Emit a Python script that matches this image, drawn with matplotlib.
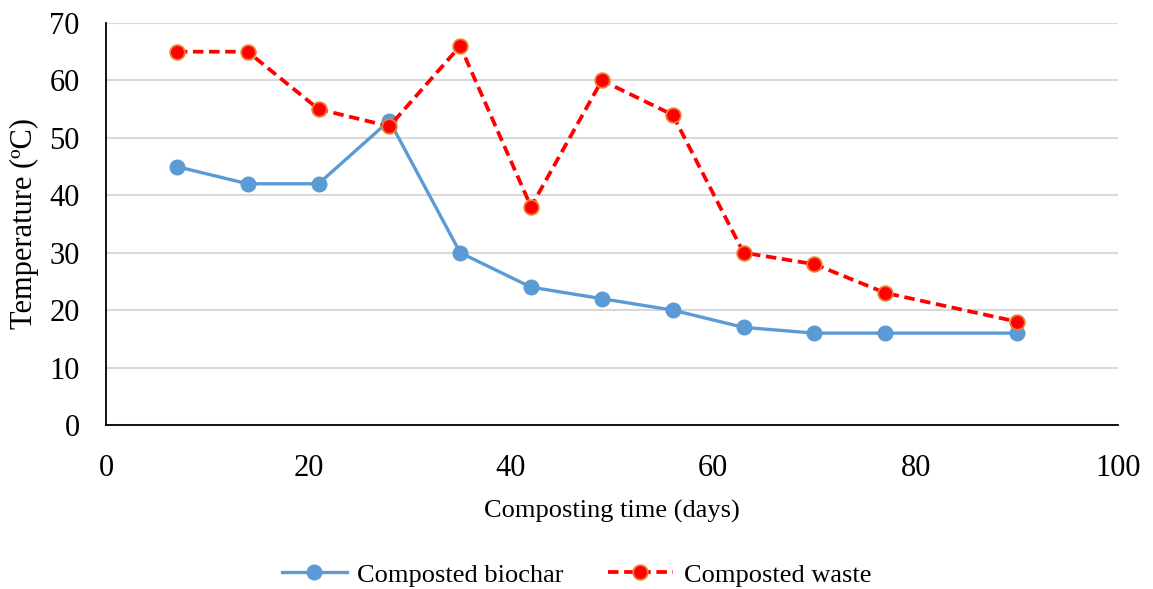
import matplotlib.pyplot as plt
import matplotlib as mpl

mpl.rcParams['font.family'] = ['Liberation Serif', 'DejaVu Serif']

# Composting time (days)
days = [7, 14, 21, 28, 35, 42, 49, 56, 63, 70, 77, 90]

# Temperature (ºC)
biochar = [45, 42, 42, 53, 30, 24, 22, 20, 17, 16, 16, 16]
waste = [65, 65, 55, 52, 66, 38, 60, 54, 30, 28, 23, 18]

blue = '#5B9BD5'
red = '#FF0000'
orange = '#ED7D31'

fig = plt.figure(figsize=(11.53, 5.89), dpi=100)
ax = fig.add_axes([0.0919, 0.2784, 0.8778, 0.6826])

ax.plot(days, biochar, color=blue, lw=2.4, marker='o', ms=10.5,
        mfc=blue, mec=blue, label='Composted biochar')
ax.plot(days, waste, color=red, lw=2.7, ls=(0, (2.8, 1.5)), marker='o', ms=10.5,
        mfc=red, mec=orange, mew=1.3, label='Composted waste')

ax.set_xlim(0, 100)
ax.set_ylim(0, 70)
ax.set_xticks(range(0, 101, 20))
ax.set_yticks(range(0, 71, 10))
ax.grid(axis='y', color='#d9d9d9', lw=1.5)
ax.set_axisbelow(True)
for s in ['top', 'right']:
    ax.spines[s].set_visible(False)
for s in ['left', 'bottom']:
    ax.spines[s].set_linewidth(1.3)
ax.tick_params(length=0, labelsize=22)
ax.tick_params(axis='x', pad=21)
ax.tick_params(axis='y', pad=19)

ax.set_xlabel('Composting time (days)', fontsize=19, labelpad=12)
ax.set_ylabel('Temperature (ºC)', fontsize=22, labelpad=7)

fig.legend(loc='center', bbox_to_anchor=(0.5, 0.024), ncol=2, frameon=False,
           fontsize=19, handlelength=2.46, handletextpad=0.4, columnspacing=1.67)

fig.savefig('out.png', dpi=100)
